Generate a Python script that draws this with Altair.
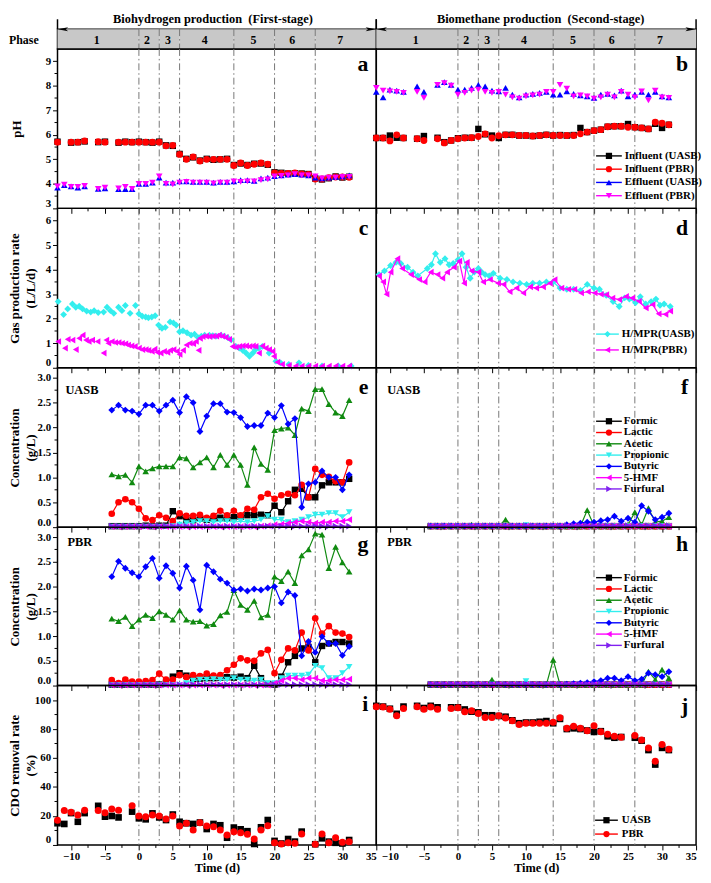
import altair as alt
import pandas as pd

FONT = "Liberation Serif"

# ---------------- axes / phases ----------------
X_DOMAIN = [-12, 35]
X_MAJOR = [-10, -5, 0, 5, 10, 15, 20, 25, 30, 35]
X_MINOR = [-7.5, -2.5, 2.5, 7.5, 12.5, 17.5, 22.5, 27.5, 32.5]
PHASE_BOUNDS = [0, 3, 6, 14, 20, 26]
PHASE_LABELS = ["1", "2", "3", "4", "5", "6", "7"]
PHASE_START = [-12, 0, 3, 6, 14, 20, 26]
PHASE_END = [0, 3, 6, 14, 20, 26, 35]
PHASE_MID = [-6.2, 1.2, 4.3, 9.7, 16.9, 22.6, 29.7]
ARROW_ENDS = [-11.2, 34.2]
STAGE_TITLES = ["Biohydrogen production\u00a0 (First-stage)", "Biomethane production\u00a0 (Second-stage)"]

BLACK, RED, GREEN, CYAN, BLUE, MAGENTA, PURPLE = "#000000", "#ff0000", "#108a10", "#33eeee", "#0000ff", "#ff00ff", "#8020f0"
DASH = "#777777"

# ---------------- pH (a, b) ----------------
PH_A_INF_DAYS = [-12, -10, -9, -8, -6, -5, -3, -2, -1, 0, 1, 2, 3, 4, 5, 6, 7, 8, 9, 10, 11, 12, 13, 14, 15, 16, 17, 18, 19, 20, 21, 22, 23, 24, 25, 26, 27, 28, 29, 30, 31]
PH_A_INF_UASB = [5.72, 5.68, 5.70, 5.73, 5.70, 5.72, 5.68, 5.72, 5.70, 5.72, 5.70, 5.68, 5.72, 5.57, 5.55, 5.22, 5.02, 5.08, 4.95, 5.02, 4.98, 5.00, 5.02, 4.77, 4.83, 4.77, 4.82, 4.83, 4.78, 4.47, 4.45, 4.42, 4.43, 4.42, 4.40, 4.22, 4.18, 4.23, 4.30, 4.26, 4.29]
PH_A_INF_PBR = [5.70, 5.70, 5.70, 5.75, 5.72, 5.70, 5.70, 5.70, 5.70, 5.70, 5.70, 5.70, 5.70, 5.55, 5.57, 5.20, 5.00, 5.10, 4.93, 5.00, 5.00, 5.00, 5.00, 4.75, 4.85, 4.75, 4.80, 4.85, 4.80, 4.45, 4.43, 4.43, 4.45, 4.40, 4.38, 4.20, 4.20, 4.25, 4.28, 4.28, 4.27]
PH_EFF_DAYS = [-12, -11, -10, -9, -8, -6, -5, -3, -2, -1, 0, 1, 2, 3, 4, 5, 6, 7, 8, 9, 10, 11, 12, 13, 14, 15, 16, 17, 18, 19, 20, 21, 22, 23, 24, 25, 26, 27, 28, 29, 30, 31]
PH_A_EFF_UASB = [3.85, 3.95, 3.90, 3.85, 3.90, 3.80, 3.82, 3.78, 3.78, 3.78, 4.00, 4.00, 4.05, 4.25, 4.05, 4.05, 4.10, 4.10, 4.08, 4.08, 4.08, 4.05, 4.08, 4.08, 4.10, 4.15, 4.15, 4.12, 4.22, 4.25, 4.32, 4.35, 4.38, 4.40, 4.38, 4.35, 4.25, 4.22, 4.25, 4.28, 4.30, 4.35]
PH_A_EFF_PBR = [3.90, 3.97, 3.88, 3.88, 3.92, 3.80, 3.85, 3.82, 3.88, 3.80, 4.00, 4.00, 4.05, 4.30, 4.00, 3.98, 4.05, 4.08, 4.05, 4.05, 4.05, 4.02, 4.05, 4.05, 4.10, 4.08, 4.10, 4.10, 4.15, 4.18, 4.30, 4.33, 4.35, 4.40, 4.35, 4.35, 4.30, 4.22, 4.25, 4.25, 4.28, 4.28]
PH_B_INF_UASB = [5.87, 5.87, 5.97, 5.88, 5.87, 5.84, 5.95, 5.88, 5.70, 5.77, 5.86, 5.88, 5.88, 6.24, 6.02, 5.97, 5.87, 6.00, 6.00, 5.97, 5.97, 5.95, 5.97, 6.00, 5.97, 5.99, 5.97, 5.99, 6.28, 6.11, 6.17, 6.21, 6.33, 6.35, 6.35, 6.44, 6.31, 6.28, 6.24, 6.45, 6.28, 6.41]
PH_B_INF_PBR = [5.87, 5.87, 5.75, 6.00, 5.87, 5.84, 5.77, 5.84, 5.67, 5.77, 5.84, 5.87, 5.88, 5.93, 6.04, 5.87, 5.96, 6.00, 6.00, 5.97, 5.97, 5.95, 5.97, 6.00, 5.97, 5.97, 5.97, 5.97, 6.04, 6.11, 6.17, 6.21, 6.33, 6.35, 6.35, 6.31, 6.31, 6.28, 6.24, 6.51, 6.47, 6.41]
PH_B_EFF_UASB = [7.75, 7.53, 7.84, 7.80, 7.75, 7.97, 7.75, 8.04, 8.15, 8.04, 7.84, 7.84, 7.91, 8.04, 7.97, 7.80, 7.77, 7.91, 7.64, 7.53, 7.64, 7.67, 7.71, 7.75, 7.64, 7.64, 7.77, 7.67, 7.61, 7.57, 7.51, 7.64, 7.67, 7.61, 7.80, 7.57, 7.64, 7.75, 7.64, 7.75, 7.57, 7.53]
PH_B_EFF_PBR = [7.91, 7.80, 7.77, 7.75, 7.71, 7.75, 7.51, 8.04, 8.11, 8.01, 7.64, 7.71, 7.80, 7.84, 7.75, 7.71, 7.75, 7.64, 7.53, 7.48, 7.57, 7.61, 7.64, 7.75, 7.75, 8.04, 7.88, 7.57, 7.61, 7.57, 7.48, 7.53, 7.64, 7.53, 7.75, 7.64, 7.53, 7.77, 7.40, 7.80, 7.53, 7.51]

# ---------------- gas production (c, d) ----------------
GAS_C_UASB_DAYS = [-11.9, -11.1, -10.5, -9.8, -9.3, -8.8, -8.3, -7.7, -7.1, -6.6, -6.0, -5.2, -4.7, -4.2, -3.7, -3.0, -2.5, -2.0, -1.3, -0.5, 0.0, 0.5, 1.0, 1.4, 1.9, 2.4, 2.9, 3.4, 3.9, 4.6, 5.1, 5.5, 6.0, 6.5, 7.1, 7.7, 8.2, 8.7, 9.2, 9.7, 10.4, 10.9, 11.4, 12.1, 12.6, 13.1, 13.6, 14.3, 14.8, 15.3, 15.8, 16.3, 16.8, 17.2, 17.7, 18.2, 19.2, 20.2, 20.9, 22.1, 23.6, 25.0, 27.0, 29.4, 31.3]
GAS_C_UASB = [2.70, 2.17, 2.40, 2.60, 2.47, 2.51, 2.40, 2.31, 2.27, 2.33, 2.25, 2.27, 2.47, 2.33, 2.22, 2.47, 2.33, 2.54, 2.22, 2.54, 2.20, 2.10, 2.07, 2.04, 2.07, 2.12, 1.74, 1.61, 1.65, 1.87, 1.83, 1.74, 1.47, 1.51, 1.43, 1.33, 1.37, 1.24, 1.29, 1.33, 1.33, 1.31, 1.29, 1.33, 1.29, 1.23, 1.14, 0.87, 0.80, 0.71, 0.60, 0.47, 0.60, 0.74, 0.80, 0.87, 0.60, 0.27, 0.20, 0.14, 0.20, 0.10, 0.07, 0.07, 0.07]
GAS_C_PBR_DAYS = [-11.9, -10.9, -10.5, -9.8, -9.3, -8.8, -8.3, -7.8, -7.4, -6.9, -6.1, -5.2, -4.8, -4.5, -4.0, -3.5, -3.0, -2.5, -2.0, -1.6, -1.1, -0.6, 0.0, 0.5, 1.0, 1.4, 1.9, 2.3, 2.7, 3.2, 3.7, 4.2, 4.6, 5.1, 5.6, 6.0, 6.5, 7.0, 7.5, 8.0, 8.4, 8.8, 9.0, 9.4, 9.9, 10.4, 10.9, 11.4, 11.8, 12.3, 12.8, 13.3, 13.8, 14.3, 14.8, 15.3, 15.8, 16.3, 16.8, 17.2, 17.7, 18.2, 18.7, 19.2, 19.7, 19.9, 20.4, 21.1, 22.1, 23.1, 24.0, 25.0, 26.0, 27.0, 28.0, 29.0, 30.0, 31.0]
GAS_C_PBR = [1.07, 0.80, 1.16, 1.13, 0.74, 1.20, 1.33, 1.13, 1.07, 1.13, 1.07, 0.60, 1.13, 1.00, 1.07, 1.03, 1.03, 1.00, 0.98, 0.93, 0.89, 0.87, 0.80, 0.74, 0.74, 0.71, 0.67, 0.76, 0.63, 0.60, 0.67, 0.63, 0.71, 0.74, 0.67, 0.54, 0.71, 0.93, 1.00, 0.98, 1.07, 0.71, 1.20, 1.27, 1.29, 1.27, 1.29, 1.29, 1.33, 1.29, 1.24, 1.16, 0.87, 0.84, 0.87, 0.89, 0.89, 0.87, 0.89, 0.87, 0.60, 0.89, 0.80, 0.74, 0.67, 0.47, 0.23, 0.14, 0.10, 0.07, 0.07, 0.07, 0.07, 0.07, 0.07, 0.07, 0.07, 0.07]
GAS_D_UASB_DAYS = [-11.6, -10.8, -9.9, -9.1, -8.4, -7.4, -6.6, -5.9, -4.5, -3.9, -3.3, -2.6, -1.9, -1.3, -0.7, 0.0, 0.6, 1.2, 1.8, 2.4, 3.0, 3.5, 4.0, 4.6, 5.2, 6.2, 7.2, 8.1, 9.1, 10.1, 11.0, 12.0, 13.0, 14.0, 15.0, 16.0, 17.0, 18.0, 19.0, 20.0, 20.8, 21.8, 22.8, 23.7, 24.5, 25.2, 26.1, 26.8, 27.6, 28.4, 29.1, 29.7, 30.3, 31.2]
GAS_D_UASB = [3.8, 3.95, 4.17, 4.3, 4.25, 4.1, 3.9, 3.75, 4.05, 4.2, 4.65, 4.3, 4.45, 4.2, 4.25, 4.4, 4.65, 4.1, 3.65, 3.9, 4.05, 3.9, 3.8, 3.75, 3.85, 3.65, 3.6, 3.5, 3.45, 3.4, 3.45, 3.45, 3.5, 3.5, 3.25, 3.2, 3.2, 3.15, 3.4, 3.25, 3.2, 2.95, 2.7, 2.5, 2.85, 2.8, 2.65, 2.9, 2.6, 2.7, 2.8, 2.55, 2.6, 2.5]
GAS_D_PBR_DAYS = [-11.6, -11.0, -10.5, -9.9, -8.9, -8.2, -6.9, -5.7, -4.9, -4.0, -3.0, -2.3, -1.6, -0.6, 0.2, 0.9, 1.3, 2.0, 3.0, 3.7, 4.7, 5.9, 6.7, 7.6, 8.6, 9.6, 10.6, 11.5, 12.5, 13.5, 14.2, 15.2, 16.2, 17.1, 18.1, 19.1, 20.1, 21.0, 21.8, 22.7, 23.7, 24.7, 25.6, 26.6, 27.6, 28.6, 29.5, 30.5, 31.2]
GAS_D_PBR = [3.75, 3.5, 3.0, 3.9, 4.45, 4.05, 3.8, 3.6, 3.5, 3.9, 3.8, 3.65, 3.9, 4.1, 4.35, 3.45, 4.3, 3.95, 3.9, 3.5, 3.6, 3.45, 3.4, 3.1, 3.25, 3.05, 3.3, 3.25, 3.3, 3.45, 3.6, 3.25, 3.2, 3.2, 3.05, 3.1, 3.05, 3.0, 2.98, 2.84, 2.78, 2.91, 2.84, 2.71, 2.44, 2.58, 2.2, 2.18, 2.31]

# ---------------- acids (e, f, g, h), days -4 ... 31 ----------------
ACID_DAYS = [-4, -3, -2, -1, 0, 1, 2, 3, 4, 5, 6, 7, 8, 9, 10, 11, 12, 13, 14, 15, 16, 17, 18, 19, 20, 21, 22, 23, 24, 25, 26, 27, 28, 29, 30, 31]
E_FORMIC = [0.02, 0.02, 0.02, 0.02, 0.02, 0.03, 0.02, 0.03, 0.03, 0.32, 0.22, 0.15, 0.14, 0.17, 0.15, 0.17, 0.19, 0.17, 0.20, 0.21, 0.24, 0.24, 0.25, 0.24, 0.43, 0.30, 0.52, 0.75, 0.77, 0.60, 0.60, 0.84, 0.90, 0.90, 0.90, 0.97]
E_LACTIC = [0.27, 0.50, 0.56, 0.50, 0.37, 0.18, 0.14, 0.24, 0.19, 0.12, 0.28, 0.23, 0.23, 0.25, 0.19, 0.23, 0.33, 0.24, 0.33, 0.24, 0.37, 0.35, 0.60, 0.67, 0.57, 0.64, 0.67, 0.64, 0.85, 0.60, 1.17, 1.05, 1.01, 0.92, 0.90, 1.30]
E_ACETIC = [1.06, 1.02, 1.05, 0.90, 1.22, 1.12, 1.18, 1.22, 1.22, 1.22, 1.40, 1.38, 1.20, 1.30, 1.40, 1.20, 1.45, 1.25, 1.45, 1.25, 0.85, 1.60, 1.27, 1.15, 1.95, 1.98, 2.00, 1.85, 2.38, 2.33, 2.77, 2.77, 2.47, 2.30, 2.23, 2.55]
E_PROPIONIC = [0.01, 0.01, 0.01, 0.01, 0.01, 0.01, 0.01, 0.01, 0.01, 0.02, 0.05, 0.08, 0.10, 0.12, 0.12, 0.10, 0.12, 0.12, 0.10, 0.12, 0.10, 0.12, 0.15, 0.22, 0.15, 0.15, 0.10, 0.12, 0.15, 0.20, 0.25, 0.25, 0.28, 0.28, 0.20, 0.30]
E_BUTYRIC = [2.35, 2.45, 2.35, 2.33, 2.27, 2.45, 2.45, 2.33, 2.45, 2.55, 2.30, 2.62, 2.50, 1.92, 2.23, 2.48, 2.48, 2.31, 2.30, 2.20, 2.02, 2.04, 2.04, 2.29, 2.20, 2.44, 2.07, 2.18, 0.40, 0.87, 0.90, 1.13, 1.00, 1.00, 0.75, 1.05]
E_HMF = [0.01, 0.01, 0.01, 0.01, 0.01, 0.01, 0.01, 0.01, 0.01, 0.01, 0.01, 0.01, 0.01, 0.01, 0.01, 0.01, 0.01, 0.01, 0.01, 0.01, 0.01, 0.01, 0.02, 0.03, 0.05, 0.06, 0.08, 0.10, 0.12, 0.10, 0.08, 0.10, 0.10, 0.12, 0.12, 0.15]
E_FURFURAL = [0.02, 0.02, 0.02, 0.02, 0.02, 0.02, 0.02, 0.02, 0.02, 0.02, 0.02, 0.02, 0.02, 0.02, 0.02, 0.02, 0.02, 0.02, 0.02, 0.02, 0.02, 0.02, 0.02, 0.02, 0.02, 0.02, 0.02, 0.02, 0.02, 0.02, 0.02, 0.02, 0.02, 0.02, 0.02, 0.02]

F_FORMIC = [0.02, 0.02, 0.02, 0.02, 0.02, 0.02, 0.02, 0.02, 0.02, 0.02, 0.02, 0.02, 0.02, 0.02, 0.02, 0.02, 0.02, 0.02, 0.02, 0.02, 0.02, 0.02, 0.02, 0.02, 0.02, 0.02, 0.02, 0.02, 0.02, 0.02, 0.02, 0.02, 0.02, 0.02, 0.02, 0.02]
F_LACTIC = [0.02, 0.02, 0.02, 0.02, 0.02, 0.02, 0.02, 0.02, 0.02, 0.02, 0.02, 0.02, 0.02, 0.02, 0.02, 0.02, 0.02, 0.02, 0.02, 0.02, 0.02, 0.02, 0.02, 0.02, 0.02, 0.02, 0.02, 0.02, 0.02, 0.02, 0.02, 0.02, 0.02, 0.02, 0.02, 0.02]
F_ACETIC = [0.02, 0.02, 0.02, 0.02, 0.02, 0.02, 0.05, 0.02, 0.02, 0.02, 0.02, 0.15, 0.02, 0.02, 0.02, 0.02, 0.02, 0.02, 0.02, 0.02, 0.02, 0.02, 0.02, 0.34, 0.03, 0.03, 0.03, 0.03, 0.03, 0.05, 0.30, 0.05, 0.38, 0.10, 0.12, 0.20]
F_PROPIONIC = [0.02, 0.02, 0.02, 0.02, 0.02, 0.02, 0.02, 0.02, 0.02, 0.02, 0.02, 0.02, 0.02, 0.02, 0.04, 0.02, 0.02, 0.02, 0.02, 0.02, 0.02, 0.02, 0.02, 0.02, 0.02, 0.02, 0.02, 0.02, 0.02, 0.02, 0.02, 0.02, 0.02, 0.02, 0.02, 0.02]
F_BUTYRIC = [0.02, 0.02, 0.02, 0.02, 0.02, 0.02, 0.02, 0.02, 0.02, 0.02, 0.02, 0.02, 0.02, 0.02, 0.02, 0.02, 0.02, 0.02, 0.02, 0.02, 0.05, 0.07, 0.08, 0.10, 0.10, 0.13, 0.15, 0.22, 0.12, 0.18, 0.10, 0.43, 0.32, 0.15, 0.20, 0.28]
F_HMF = [0.02, 0.02, 0.02, 0.02, 0.02, 0.02, 0.02, 0.02, 0.02, 0.02, 0.02, 0.02, 0.02, 0.02, 0.02, 0.02, 0.02, 0.02, 0.02, 0.02, 0.02, 0.02, 0.02, 0.02, 0.02, 0.02, 0.02, 0.02, 0.02, 0.02, 0.02, 0.02, 0.02, 0.02, 0.02, 0.02]
F_FURFURAL = [0.03, 0.03, 0.03, 0.03, 0.03, 0.03, 0.03, 0.03, 0.03, 0.03, 0.03, 0.03, 0.03, 0.03, 0.03, 0.03, 0.03, 0.03, 0.03, 0.03, 0.03, 0.03, 0.03, 0.03, 0.03, 0.03, 0.03, 0.03, 0.03, 0.03, 0.03, 0.03, 0.03, 0.03, 0.03, 0.03]

G_FORMIC = [0.02, 0.02, 0.02, 0.02, 0.02, 0.02, 0.02, 0.02, 0.05, 0.18, 0.25, 0.20, 0.13, 0.14, 0.15, 0.15, 0.16, 0.17, 0.16, 0.18, 0.15, 0.40, 0.15, 0.03, 0.02, 0.18, 0.47, 0.60, 0.75, 0.78, 0.47, 0.80, 0.85, 0.88, 0.88, 0.85]
G_LACTIC = [0.11, 0.05, 0.12, 0.08, 0.08, 0.09, 0.11, 0.24, 0.12, 0.12, 0.21, 0.17, 0.21, 0.19, 0.24, 0.20, 0.21, 0.31, 0.42, 0.55, 0.51, 0.50, 0.65, 0.72, 0.25, 0.52, 0.75, 0.71, 1.07, 0.71, 1.36, 1.05, 1.20, 1.07, 1.05, 0.98]
G_ACETIC = [1.35, 1.30, 1.39, 1.20, 1.33, 1.43, 1.36, 1.50, 1.43, 1.33, 1.52, 1.33, 1.29, 1.30, 1.21, 1.24, 1.42, 1.49, 1.93, 1.63, 1.53, 1.71, 1.38, 1.43, 2.20, 2.11, 2.30, 2.07, 2.63, 2.75, 3.07, 3.05, 2.37, 2.80, 2.49, 2.30]
G_PROPIONIC = [0.01, 0.01, 0.01, 0.01, 0.01, 0.01, 0.01, 0.01, 0.01, 0.01, 0.01, 0.05, 0.10, 0.12, 0.12, 0.13, 0.12, 0.12, 0.15, 0.12, 0.12, 0.10, 0.12, 0.05, 0.05, 0.15, 0.20, 0.20, 0.20, 0.22, 0.40, 0.35, 0.15, 0.15, 0.25, 0.38]
G_BUTYRIC = [2.20, 2.51, 2.37, 2.28, 2.20, 2.40, 2.57, 2.17, 2.42, 2.27, 1.97, 2.41, 2.13, 1.53, 2.43, 2.30, 2.15, 2.07, 1.93, 1.95, 1.91, 1.95, 1.93, 1.97, 2.00, 1.67, 1.89, 1.82, 0.60, 0.89, 0.67, 0.99, 0.85, 0.85, 0.61, 0.79]
G_HMF = [0.01, 0.01, 0.01, 0.01, 0.01, 0.01, 0.01, 0.01, 0.01, 0.01, 0.01, 0.01, 0.01, 0.01, 0.01, 0.01, 0.01, 0.01, 0.01, 0.01, 0.01, 0.01, 0.01, 0.01, 0.05, 0.10, 0.15, 0.15, 0.12, 0.15, 0.15, 0.10, 0.10, 0.12, 0.12, 0.13]
G_FURFURAL = [0.02, 0.02, 0.02, 0.02, 0.02, 0.02, 0.02, 0.02, 0.02, 0.02, 0.02, 0.02, 0.02, 0.02, 0.02, 0.02, 0.02, 0.02, 0.02, 0.02, 0.02, 0.02, 0.02, 0.02, 0.02, 0.02, 0.02, 0.02, 0.02, 0.02, 0.02, 0.02, 0.02, 0.02, 0.02, 0.02]

H_FORMIC = [0.02, 0.02, 0.02, 0.02, 0.02, 0.02, 0.02, 0.02, 0.02, 0.02, 0.02, 0.02, 0.02, 0.02, 0.02, 0.02, 0.02, 0.02, 0.02, 0.02, 0.02, 0.02, 0.02, 0.02, 0.02, 0.02, 0.02, 0.02, 0.02, 0.02, 0.02, 0.02, 0.02, 0.02, 0.02, 0.02]
H_LACTIC = [0.02, 0.02, 0.02, 0.02, 0.02, 0.02, 0.02, 0.02, 0.02, 0.02, 0.02, 0.02, 0.02, 0.02, 0.02, 0.02, 0.02, 0.02, 0.02, 0.02, 0.02, 0.02, 0.02, 0.02, 0.02, 0.02, 0.02, 0.02, 0.02, 0.02, 0.02, 0.02, 0.02, 0.02, 0.02, 0.02]
H_ACETIC = [0.02, 0.02, 0.02, 0.02, 0.02, 0.02, 0.02, 0.02, 0.02, 0.12, 0.02, 0.02, 0.02, 0.02, 0.02, 0.02, 0.02, 0.02, 0.52, 0.02, 0.02, 0.02, 0.02, 0.02, 0.02, 0.02, 0.02, 0.02, 0.02, 0.02, 0.02, 0.02, 0.28, 0.12, 0.32, 0.15]
H_PROPIONIC = [0.02, 0.02, 0.02, 0.02, 0.02, 0.02, 0.02, 0.02, 0.02, 0.02, 0.02, 0.02, 0.02, 0.02, 0.09, 0.02, 0.02, 0.02, 0.02, 0.02, 0.02, 0.02, 0.02, 0.02, 0.02, 0.02, 0.02, 0.02, 0.02, 0.02, 0.02, 0.02, 0.02, 0.02, 0.02, 0.02]
H_BUTYRIC = [0.02, 0.02, 0.02, 0.02, 0.02, 0.02, 0.02, 0.02, 0.02, 0.02, 0.02, 0.02, 0.02, 0.02, 0.02, 0.02, 0.02, 0.02, 0.02, 0.02, 0.03, 0.04, 0.05, 0.06, 0.08, 0.10, 0.15, 0.15, 0.10, 0.18, 0.10, 0.13, 0.25, 0.22, 0.18, 0.28]
H_HMF = [0.02, 0.02, 0.02, 0.02, 0.02, 0.02, 0.02, 0.02, 0.02, 0.02, 0.02, 0.02, 0.02, 0.02, 0.02, 0.02, 0.02, 0.02, 0.02, 0.02, 0.02, 0.02, 0.02, 0.02, 0.02, 0.02, 0.02, 0.02, 0.02, 0.02, 0.02, 0.02, 0.02, 0.02, 0.02, 0.02]
H_FURFURAL = [0.03, 0.03, 0.03, 0.03, 0.03, 0.03, 0.03, 0.03, 0.03, 0.03, 0.03, 0.03, 0.03, 0.03, 0.03, 0.03, 0.03, 0.03, 0.03, 0.03, 0.03, 0.03, 0.03, 0.03, 0.03, 0.03, 0.03, 0.03, 0.03, 0.03, 0.03, 0.03, 0.03, 0.03, 0.03, 0.03]

# ---------------- COD removal (i, j) ----------------
CDO_DAYS = [-12, -11, -10, -9, -8, -6, -5, -4, -3, -1, 0, 1, 2, 3, 4, 5, 6, 7, 8, 9, 10, 11, 12, 13, 14, 15, 16, 17, 18, 19, 20, 21, 22, 23, 24, 26, 27, 28, 29, 30, 31]
CDO_I_UASB = [15, 14.5, 22, 16, 22, 27, 19.5, 20, 19, 23, 18.4, 17.7, 21.8, 19, 17.2, 21, 16, 15, 14.5, 15.5, 11, 14.5, 13.6, 5, 12, 10.8, 9.5, 0.7, 12.2, 17.2, 2.8, 1.0, 4.1, 2.3, 9.2, 0.5, 4.6, 2.3, 1.5, 1.0, 3.4]
CDO_I_PBR = [17, 23.7, 22.5, 20.7, 24, 23.7, 22.3, 24.8, 24, 27, 20, 19.5, 20.7, 20, 18, 20, 13.1, 15, 10.3, 15.4, 13.1, 12.6, 10.3, 6.9, 9.2, 8.5, 7.4, 4.1, 10.3, 13.3, 1.6, 0.7, 1.6, 1.1, 7.6, 0.5, 7.6, 1.6, 5, 1.8, 2.3]
CDO_J_UASB = [96, 95.5, 94, 90.5, 95.5, 96, 94.5, 96, 95, 95, 95, 93.5, 92, 91.5, 89.5, 89.5, 89, 88.5, 86, 84, 84.5, 84.5, 85, 85.5, 84, 87, 80, 80.5, 80, 79, 78, 78.5, 75, 74, 74.5, 74, 72, 65.5, 55.5, 67, 65.5]
CDO_J_PBR = [95.4, 95.2, 93.7, 89.2, 94.2, 95.4, 93.7, 95.2, 93.7, 94.2, 94.7, 92.0, 92.7, 90.7, 88.0, 88.0, 89.2, 87.6, 85.8, 83.1, 84.0, 84.0, 84.0, 84.0, 84.6, 87.8, 80.5, 81.9, 80.5, 78.9, 82.3, 78.2, 76.4, 75.0, 74.3, 75.5, 72.5, 66.9, 57.8, 69.4, 66.0]

# ---------------- sizes ----------------
W_L, W_R = 322, 323
H_PH, H_GAS, H_E, H_G, H_CDO = 161, 161, 161, 160, 161
H_PHASE = 20

ONE = alt.Data(values=[{"k": 0}])
XSCALE = alt.Scale(domain=X_DOMAIN, nice=False, zero=False)


def xenc(bottom):
    ax = alt.Axis(values=X_MAJOR, labels=bottom, tickSize=5, grid=False, domain=False,
                  labelOverlap=False, labelFlush=True, labelPadding=1, labelFontSize=11,
                  titlePadding=0, titleFontSize=12.5)
    if bottom:
        return alt.X("day:Q", scale=XSCALE, axis=ax, title="Time (d)")
    return alt.X("day:Q", scale=XSCALE, axis=ax, title=None)


def yenc(left, ydom, yticks, yfmt, ytitle, title_x):
    sc = alt.Scale(domain=ydom, nice=False, zero=False)
    if left:
        ax = alt.Axis(values=yticks, format=yfmt, tickSize=5, grid=False, domain=False,
                      labelPadding=2, labelFontSize=11, labelFlush=True, labelOverlap=False,
                      titleX=title_x, titleBaseline="middle",
                      titleAlign="center", titleAngle=270, titleFontSize=13, titleLineHeight=16)
        return alt.Y("v:Q", scale=sc, axis=ax, title=ytitle)
    return alt.Y("v:Q", scale=sc, axis=None)


def legend_layers(series, x0, x1, xt, y0, dy):
    out = []
    for i, s in enumerate(series):
        y = y0 + i * dy
        out.append(alt.Chart(ONE).mark_rule(color=s["color"], strokeWidth=1.4).encode(
            x=alt.value(x0), x2=alt.value(x1), y=alt.value(y)))
        out.append(alt.Chart(ONE).mark_point(filled=True, opacity=1, shape=s["shape"], color=s["color"], size=40).encode(
            x=alt.value((x0 + x1) / 2), y=alt.value(y)))
        out.append(alt.Chart(ONE).mark_text(text=s["name"], font=FONT, fontWeight="bold", fontSize=11,
                                            align="left", baseline="middle", color="black").encode(
            x=alt.value(xt), y=alt.value(y)))
    return out


def panel(width, height, left, bottom, ydom, yticks, yminor, yfmt, ytitle, title_x, series,
          letter, letter_y, tag=None, tag_x=8, tag_y=20, legend=None):
    X = xenc(bottom)
    Y = yenc(left, ydom, yticks, yfmt, ytitle, title_x)
    layers = [
        alt.Chart(pd.DataFrame({"day": PHASE_BOUNDS})).mark_rule(
            color=DASH, strokeWidth=1, strokeDash=[7, 3, 1.5, 3]).encode(x=X),
        alt.Chart(pd.DataFrame({"day": X_MINOR})).mark_rule(color="black", strokeWidth=1).encode(
            x=X, y=alt.value(height), y2=alt.value(height + 3)),
    ]
    if left:
        layers.append(alt.Chart(pd.DataFrame({"v": yminor})).mark_rule(color="black", strokeWidth=1).encode(
            y=Y, x=alt.value(0), x2=alt.value(-3)))
    for s in series:
        df = pd.DataFrame({"day": s["days"], "v": s["vals"]})
        if s.get("line"):
            layers.append(alt.Chart(df).mark_line(color=s["color"], strokeWidth=1.2).encode(x=X, y=Y))
        layers.append(alt.Chart(df).mark_point(filled=True, opacity=1, shape=s["shape"], color=s["color"],
                                               size=s.get("size", 42)).encode(x=X, y=Y))
    layers.append(alt.Chart(ONE).mark_text(text=letter, font=FONT, fontWeight="bold", fontSize=22,
                                           align="right", baseline="alphabetic", color="black").encode(
        x=alt.value(width - 8), y=alt.value(letter_y)))
    if tag:
        layers.append(alt.Chart(ONE).mark_text(text=tag, font=FONT, fontWeight="bold", fontSize=12.5,
                                               align="left", baseline="alphabetic", color="black").encode(
            x=alt.value(tag_x), y=alt.value(tag_y)))
    if legend:
        layers += legend_layers(series, **legend)
    return alt.layer(*layers).properties(width=width, height=height)


def phase_cell(width, title, title_cx, left):
    X = alt.X("day:Q", scale=XSCALE, axis=None)
    pdf = pd.DataFrame({"day": PHASE_START, "day2": PHASE_END})
    layers = [
        alt.Chart(pdf).mark_rect(color="#c8c8c8").encode(x=X, x2="day2:Q"),
        alt.Chart(pd.DataFrame({"day": PHASE_BOUNDS})).mark_rule(
            color=DASH, strokeWidth=1, strokeDash=[7, 3, 1.5, 3]).encode(x=X),
        alt.Chart(pd.DataFrame({"day": PHASE_MID, "lab": PHASE_LABELS})).mark_text(
            font=FONT, fontWeight="bold", fontSize=12, baseline="middle", color="black").encode(
            x=X, y=alt.value(H_PHASE / 2 + 1), text="lab:N"),
        alt.Chart(pd.DataFrame({"day": [X_DOMAIN[0], X_DOMAIN[1]]})).mark_rule(
            color="black", strokeWidth=1.5).encode(x=X, y=alt.value(-10), y2=alt.value(0)),
        alt.Chart(pd.DataFrame({"day": [ARROW_ENDS[0]]})).mark_point(
            filled=True, opacity=1, color="black", size=110,
            shape="M-1,0L1,-0.38L0.55,0L1,0.38Z").encode(x=X, y=alt.value(0)),
        alt.Chart(pd.DataFrame({"day": [ARROW_ENDS[1]]})).mark_point(
            filled=True, opacity=1, color="black", size=110,
            shape="M1,0L-1,-0.38L-0.55,0L-1,0.38Z").encode(x=X, y=alt.value(0)),
        alt.Chart(ONE).mark_text(text=title, font=FONT, fontWeight="bold", fontSize=12.5,
                                 align="center", baseline="alphabetic", color="black").encode(
            x=alt.value(title_cx), y=alt.value(-6)),
    ]
    if left:
        layers.append(alt.Chart(ONE).mark_text(text="Phase", font=FONT, fontWeight="bold", fontSize=12,
                                               align="left", baseline="middle", color="black").encode(
            x=alt.value(-49), y=alt.value(H_PHASE / 2 + 1)))
    return alt.layer(*layers).properties(width=width, height=H_PHASE)


def S(name, days, vals, color, shape, line=False, size=42):
    return dict(name=name, days=days, vals=vals, color=color, shape=shape, line=line, size=size)


ser_a = [S("Influent (UASB)", PH_A_INF_DAYS, PH_A_INF_UASB, BLACK, "square"),
         S("Influent (PBR)", PH_A_INF_DAYS, PH_A_INF_PBR, RED, "circle", size=48),
         S("Effluent (UASB)", PH_EFF_DAYS, PH_A_EFF_UASB, BLUE, "triangle-up", size=45),
         S("Effluent (PBR)", PH_EFF_DAYS, PH_A_EFF_PBR, MAGENTA, "triangle-down", size=45)]
ser_b = [S("Influent (UASB)", PH_EFF_DAYS, PH_B_INF_UASB, BLACK, "square"),
         S("Influent (PBR)", PH_EFF_DAYS, PH_B_INF_PBR, RED, "circle", size=48),
         S("Effluent (UASB)", PH_EFF_DAYS, PH_B_EFF_UASB, BLUE, "triangle-up", size=45),
         S("Effluent (PBR)", PH_EFF_DAYS, PH_B_EFF_PBR, MAGENTA, "triangle-down", size=45)]
ser_c = [S("H/MPR(UASB)", GAS_C_UASB_DAYS, GAS_C_UASB, CYAN, "diamond", size=48),
         S("H/MPR(PBR)", GAS_C_PBR_DAYS, GAS_C_PBR, MAGENTA, "triangle-left", size=45)]
ser_d = [S("H/MPR(UASB)", GAS_D_UASB_DAYS, GAS_D_UASB, CYAN, "diamond", line=True, size=48),
         S("H/MPR(PBR)", GAS_D_PBR_DAYS, GAS_D_PBR, MAGENTA, "triangle-left", line=True, size=45)]


def acids(f, l, a, p, b, h, fu):
    return [S("Formic", ACID_DAYS, f, BLACK, "square", line=True),
            S("Lactic", ACID_DAYS, l, RED, "circle", line=True, size=45),
            S("Acetic", ACID_DAYS, a, GREEN, "triangle-up", line=True, size=45),
            S("Propionic", ACID_DAYS, p, CYAN, "triangle-down", line=True, size=45),
            S("Butyric", ACID_DAYS, b, BLUE, "diamond", line=True, size=48),
            S("5-HMF", ACID_DAYS, h, MAGENTA, "triangle-left", line=True, size=45),
            S("Furfural", ACID_DAYS, fu, PURPLE, "triangle-right", line=True, size=45)]


ser_e = acids(E_FORMIC, E_LACTIC, E_ACETIC, E_PROPIONIC, E_BUTYRIC, E_HMF, E_FURFURAL)
ser_f = acids(F_FORMIC, F_LACTIC, F_ACETIC, F_PROPIONIC, F_BUTYRIC, F_HMF, F_FURFURAL)
ser_g = acids(G_FORMIC, G_LACTIC, G_ACETIC, G_PROPIONIC, G_BUTYRIC, G_HMF, G_FURFURAL)
ser_h = acids(H_FORMIC, H_LACTIC, H_ACETIC, H_PROPIONIC, H_BUTYRIC, H_HMF, H_FURFURAL)
ser_i = [S("UASB", CDO_DAYS, CDO_I_UASB, BLACK, "square", size=45),
         S("PBR", CDO_DAYS, CDO_I_PBR, RED, "circle", size=50)]
ser_j = [S("UASB", CDO_DAYS, CDO_J_UASB, BLACK, "square", size=45),
         S("PBR", CDO_DAYS, CDO_J_PBR, RED, "circle", size=50)]

PH_TICKS, PH_MINOR = [3, 4, 5, 6, 7, 8, 9], [3.5, 4.5, 5.5, 6.5, 7.5, 8.5]
GAS_TICKS, GAS_MINOR = [0, 1, 2, 3, 4, 5, 6], [0.5, 1.5, 2.5, 3.5, 4.5, 5.5]
C_TICKS, C_MINOR = [0, 0.5, 1.0, 1.5, 2.0, 2.5, 3.0], [0.25, 0.75, 1.25, 1.75, 2.25, 2.75]
CDO_TICKS, CDO_MINOR = [0, 20, 40, 60, 80, 100], [10, 30, 50, 70, 90]

TX2 = -43
cells = [
    phase_cell(W_L, STAGE_TITLES[0], 157, True),
    phase_cell(W_R, STAGE_TITLES[1], 166, False),
    panel(W_L, H_PH, True, False, [3, 9.5], PH_TICKS, PH_MINOR, "d", "pH", -41, ser_a, "a", 22),
    panel(W_R, H_PH, False, False, [3, 9.5], PH_TICKS, PH_MINOR, "d", "pH", -41, ser_b, "b", 22,
          legend=dict(x0=222, x1=248, xt=251, y0=108, dy=13.4)),
    panel(W_L, H_GAS, True, False, [0, 6.5], GAS_TICKS, GAS_MINOR, "d",
          ["Gas production rate", "(L/L/d)"], TX2, ser_c, "c", 27),
    panel(W_R, H_GAS, False, False, [0, 6.5], GAS_TICKS, GAS_MINOR, "d", "", TX2, ser_d, "d", 27,
          legend=dict(x0=222, x1=245, xt=248, y0=127, dy=16)),
    panel(W_L, H_E, True, False, [0, 3.2], C_TICKS, C_MINOR, ".1f",
          ["Concentration", "(g/L)"], TX2, ser_e, "e", 26, tag="UASB", tag_x=8, tag_y=27),
    panel(W_R, H_E, False, False, [0, 3.2], C_TICKS, C_MINOR, ".1f", "", TX2, ser_f, "f", 26,
          tag="UASB", tag_x=11, tag_y=27, legend=dict(x0=222, x1=248, xt=250, y0=54, dy=11.4)),
    panel(W_L, H_G, True, False, [0, 3.2], C_TICKS, C_MINOR, ".1f",
          ["Concentration", "(g/L)"], TX2, ser_g, "g", 24, tag="PBR", tag_x=10, tag_y=19),
    panel(W_R, H_G, False, False, [0, 3.2], C_TICKS, C_MINOR, ".1f", "", TX2, ser_h, "h", 24,
          tag="PBR", tag_x=11, tag_y=19, legend=dict(x0=222, x1=248, xt=250, y0=51, dy=11.4)),
    panel(W_L, H_CDO, True, True, [0, 110], CDO_TICKS, CDO_MINOR, "d",
          ["CDO removal rate", "(%)"], TX2, ser_i, "i", 26),
    panel(W_R, H_CDO, False, True, [0, 110], CDO_TICKS, CDO_MINOR, "d", "", TX2, ser_j, "j", 28,
          legend=dict(x0=221, x1=244, xt=248, y0=136, dy=14)),
]

chart = alt.concat(*cells, columns=2, spacing=0, bounds="flush").properties(
    padding={"left": 0, "right": 0, "top": 0, "bottom": 0}
).configure_view(
    stroke="black", strokeWidth=1.5
).configure_axis(
    labelFont=FONT, titleFont=FONT, labelFontWeight="bold", titleFontWeight="bold",
    labelColor="black", titleColor="black", tickColor="black", tickWidth=1
)

chart.save("out.html", embed_options={"renderer": "svg", "actions": False})
